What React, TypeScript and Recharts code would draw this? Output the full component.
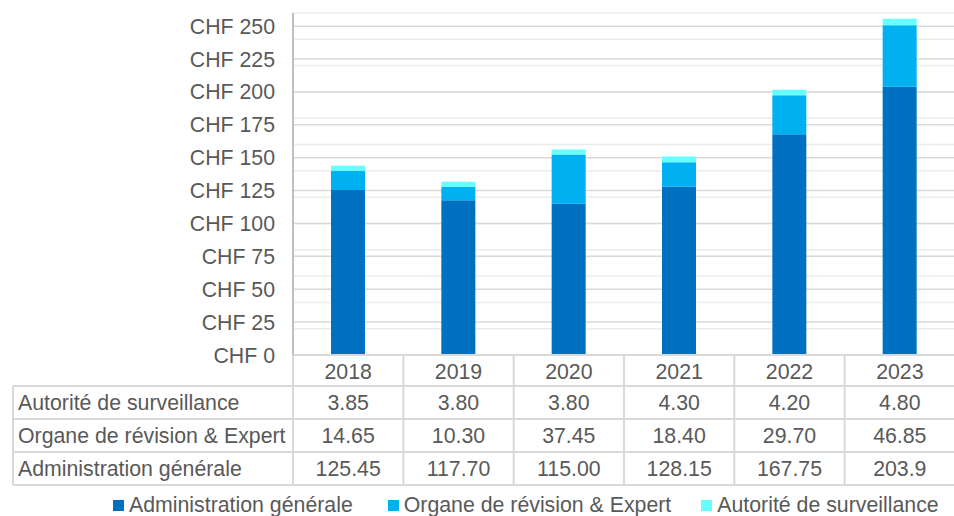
import { Bar, BarChart, CartesianGrid, Legend, XAxis, YAxis } from "recharts";

const years = ["2018", "2019", "2020", "2021", "2022", "2023"];
// values as printed in the data table under the chart
const autorite = ["3.85", "3.80", "3.80", "4.30", "4.20", "4.80"];
const organe = ["14.65", "10.30", "37.45", "18.40", "29.70", "46.85"];
const administration = ["125.45", "117.70", "115.00", "128.15", "167.75", "203.9"];
const yTicks = [0, 25, 50, 75, 100, 125, 150, 175, 200, 225, 250];

const series = [
  { key: "administration", name: "Administration générale", color: "#0070C0", values: administration },
  { key: "organe", name: "Organe de révision & Expert", color: "#00B0F0", values: organe },
  { key: "autorite", name: "Autorité de surveillance", color: "#66FFFF", values: autorite }
];

// table rows top to bottom
const tableRows = [series[2], series[1], series[0]];

const data = years.map((year, i) => ({
  year,
  administration: Number(administration[i]),
  organe: Number(organe[i]),
  autorite: Number(autorite[i])
}));

const minorGrid = Array.from({ length: 53 }, (_, i) => i * 5);

const W = 955;
const H = 516;
const Y_W = 293;
const TEXT = "#595959";
const LINE = "#d9d9d9";
const FONT = "'Liberation Sans', Arial, sans-serif";
const FS = 21.3;
const HEADER_H = 31;
const ROW_H = 33;
const BAND = (W - Y_W) / years.length;

function TableTick(props: any) {
  const { x, y, payload, index } = props;
  const top = y;
  const left = x - BAND / 2;
  const right = x + BAND / 2;
  const bottom = top + HEADER_H + ROW_H * tableRows.length;
  return (
    <g>
      {index === 0 && (
        <g>
          <line x1={left} x2={left} y1={top} y2={bottom} stroke={LINE} strokeWidth={2} />
          <line x1={13} x2={13} y1={top + HEADER_H} y2={bottom} stroke={LINE} strokeWidth={2} />
          {tableRows.map((r, ri) => (
            <g key={r.key}>
              <line x1={13} x2={W} y1={top + HEADER_H + ri * ROW_H} y2={top + HEADER_H + ri * ROW_H} stroke={LINE} strokeWidth={2} />
              <text x={18} y={top + HEADER_H + ri * ROW_H + ROW_H / 2} dy="0.355em" fill={TEXT} fontSize={FS} fontFamily={FONT}>
                {r.name}
              </text>
            </g>
          ))}
          <line x1={13} x2={W} y1={bottom} y2={bottom} stroke={LINE} strokeWidth={2} />
        </g>
      )}
      <line x1={right} x2={right} y1={top} y2={bottom} stroke={LINE} strokeWidth={2} />
      <text x={x} y={top + HEADER_H / 2 + 1} dy="0.355em" textAnchor="middle" fill={TEXT} fontSize={FS} fontFamily={FONT}>
        {payload.value}
      </text>
      {tableRows.map((r, ri) => (
        <text key={r.key} x={x} y={top + HEADER_H + ri * ROW_H + ROW_H / 2} dy="0.355em" textAnchor="middle" fill={TEXT} fontSize={FS} fontFamily={FONT}>
          {r.values[payload.index ?? index]}
        </text>
      ))}
    </g>
  );
}

function LegendContent() {
  return (
    <div style={{ display: "flex", fontFamily: FONT, fontSize: FS, lineHeight: "24px", color: TEXT, whiteSpace: "nowrap" }}>
      {series.map((s, i) => (
        <div key={s.key} style={{ display: "flex", alignItems: "center", marginRight: i === 0 ? 35 : 30 }}>
          <span style={{ width: 11, height: 11, background: s.color, marginRight: 5, display: "inline-block" }} />
          {s.name}
        </div>
      ))}
    </div>
  );
}

export default function App() {
  return (
    <div style={{ position: "absolute", left: 0, top: 0, width: 954, height: H, overflow: "hidden", background: "#fff" }}>
      <BarChart width={W} height={H} data={data} margin={{ top: 13, right: 0, left: 0, bottom: 31 }} barSize={34}>
        <CartesianGrid vertical={false} horizontalValues={minorGrid} stroke="#ececec" strokeWidth={1.5} />
        <CartesianGrid vertical={false} horizontalValues={yTicks} stroke={LINE} strokeWidth={1.5} />
        <XAxis
          dataKey="year"
          height={130}
          axisLine={{ stroke: LINE, strokeWidth: 2 }}
          tickLine={false}
          tickSize={0}
          tickMargin={0}
          interval={0}
          tick={<TableTick />}
        />
        <YAxis
          width={Y_W}
          domain={[0, 260]}
          ticks={yTicks}
          tickFormatter={(v) => `CHF ${v}`}
          axisLine={{ stroke: "#bfbfbf", strokeWidth: 2 }}
          tickLine={false}
          tickSize={0}
          tickMargin={18}
          tick={{ fill: TEXT, fontSize: FS, fontFamily: FONT }}
        />
        <Legend
          layout="horizontal"
          verticalAlign="middle"
          align="center"
          content={<LegendContent />}
          wrapperStyle={{ left: 113, top: 493, width: 900 }}
        />
        {series.map((s) => (
          <Bar key={s.key} dataKey={s.key} name={s.name} stackId="a" fill={s.color} isAnimationActive={false} />
        ))}
      </BarChart>
    </div>
  );
}
